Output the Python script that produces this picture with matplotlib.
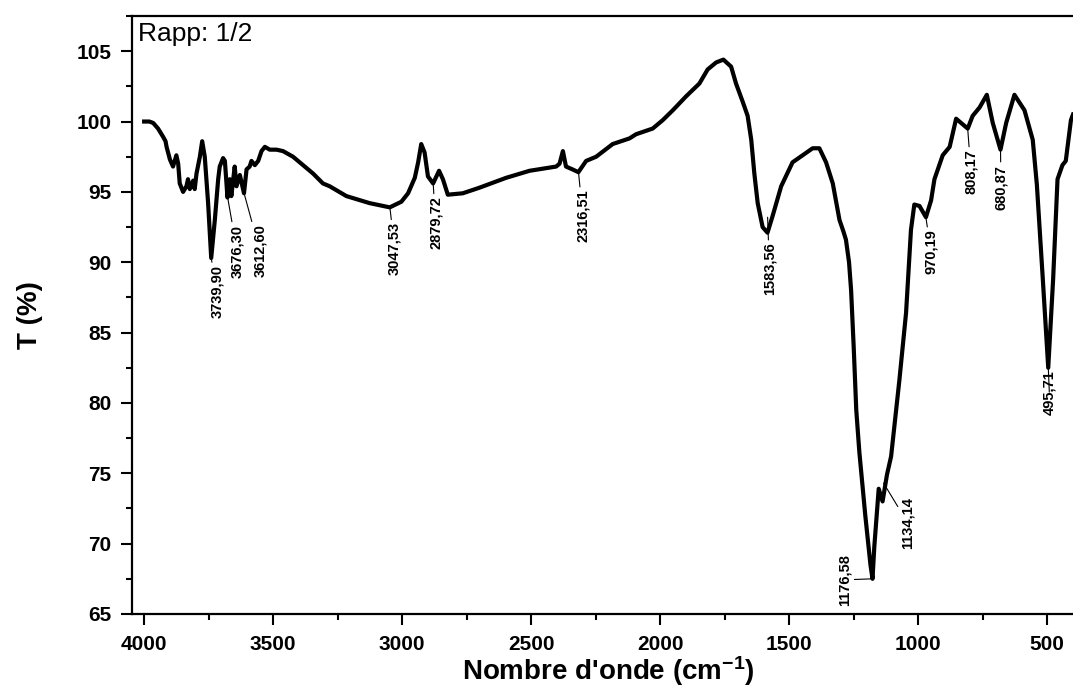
import numpy as np
import matplotlib
matplotlib.use('Agg')
import matplotlib.pyplot as plt
from matplotlib.ticker import MultipleLocator

plt.rcParams['font.family'] = ['Liberation Sans', 'DejaVu Sans']
plt.rcParams['mathtext.fontset'] = 'custom'
plt.rcParams['mathtext.rm'] = 'Liberation Sans:bold'
plt.rcParams['mathtext.bf'] = 'Liberation Sans:bold'
plt.rcParams['mathtext.it'] = 'Liberation Sans:bold'

# spectre IR (nombre d'onde, transmittance)
wavenumber = [4000, 3980, 3965, 3946, 3926, 3917, 3913, 3900, 3888, 3875,
              3868, 3862, 3849, 3836, 3830, 3823, 3810, 3804, 3797, 3784,
              3775, 3765, 3752, 3740, 3726, 3713, 3707, 3694, 3687, 3677,
              3668, 3662, 3649, 3642, 3629, 3613, 3603, 3591, 3584, 3571,
              3558, 3545, 3532, 3513, 3487, 3462, 3423, 3384, 3345, 3307,
              3281, 3216, 3126, 3048, 3003, 2977, 2951, 2938, 2926, 2913,
              2900, 2880, 2857, 2842, 2823, 2765, 2700, 2597, 2506, 2403,
              2390, 2377, 2365, 2340, 2317, 2287, 2248, 2184, 2119, 2093,
              2029, 1990, 1951, 1899, 1848, 1816, 1783, 1755, 1725, 1706,
              1680, 1661, 1647, 1635, 1622, 1603, 1584, 1564, 1531, 1487,
              1448, 1409, 1383, 1357, 1331, 1305, 1290, 1280, 1268, 1260,
              1250, 1240, 1228, 1205, 1185, 1177, 1170, 1153, 1138, 1121,
              1105, 1073, 1047, 1028, 1015, 995, 970, 950, 937, 905,
              878, 853, 808, 789, 762, 734, 711, 681, 659, 627,
              588, 556, 540, 517, 496, 477, 460, 441, 428, 408, 400]
transmittance = [100.0, 100.0, 99.9, 99.5, 98.9, 98.6, 98.2, 97.3, 96.8, 97.6,
                 97.0, 95.6, 95.0, 95.4, 95.9, 95.2, 95.8, 95.2, 96.3, 97.5,
                 98.6, 97.5, 94.2, 90.3, 93.0, 95.9, 96.8, 97.4, 97.2, 94.6,
                 95.9, 94.7, 96.8, 95.4, 96.2, 94.9, 96.6, 96.8, 97.2, 96.9,
                 97.2, 97.9, 98.2, 98.0, 98.0, 97.9, 97.5, 96.9, 96.3, 95.6,
                 95.4, 94.7, 94.2, 93.9, 94.3, 94.9, 96.0, 97.1, 98.4, 97.8,
                 96.1, 95.6, 96.5, 95.9, 94.8, 94.9, 95.3, 96.0, 96.5, 96.8,
                 97.0, 97.9, 96.8, 96.6, 96.4, 97.2, 97.5, 98.4, 98.8, 99.1,
                 99.5, 100.1, 100.8, 101.8, 102.7, 103.7, 104.2, 104.4, 103.9, 102.7,
                 101.4, 100.4, 98.7, 96.3, 94.2, 92.5, 92.1, 93.3, 95.4, 97.1,
                 97.6, 98.1, 98.1, 97.1, 95.6, 93.0, 92.2, 91.6, 90.0, 88.0,
                 84.0, 79.5, 76.5, 72.0, 68.5, 67.5, 69.8, 73.9, 73.0, 74.9,
                 76.2, 81.6, 86.4, 92.3, 94.1, 94.0, 93.2, 94.4, 95.9, 97.6,
                 98.2, 100.2, 99.5, 100.4, 101.0, 101.9, 99.9, 98.0, 99.9, 101.9,
                 100.8, 98.7, 95.5, 88.8, 82.5, 88.8, 95.9, 96.9, 97.2, 100.1, 100.5]

# pics annotés
peak_labels = ['3739,90', '3676,30', '3612,60', '3047,53', '2879,72', '2316,51',
               '1583,56', '1176,58', '1134,14', '970,19', '808,17', '680,87', '495,71']
peak_wn = [3739.90, 3676.30, 3612.60, 3047.53, 2879.72, 2316.51,
           1583.56, 1176.58, 1134.14, 970.19, 808.17, 680.87, 495.71]
peak_t = [90.3, 94.6, 94.9, 93.9, 95.6, 96.4,
          93.2, 67.5, 74.3, 93.2, 99.5, 98.0, 82.5]

# décalage du texte par rapport au pic (pixels)
label_offsets = [(5.5, -7), (9.4, -27), (15.7, -31), (4.8, -15), (2.4, -13), (4.3, -17.5),
                 (1.8, -25.5), (-28, -1), (24, -13.5), (5.1, -12.5), (3.3, -21), (0.4, -15), (1, -2)]

fig = plt.figure(figsize=(10.73, 6.93), dpi=100)
ax = fig.add_axes([132/1073, 1-614/693, (1073-132)/1073, (614-16)/693])

ax.plot(wavenumber, transmittance, color='black', lw=3.0, solid_joinstyle='round')

for lab, x, y, off in zip(peak_labels, peak_wn, peak_t, label_offsets):
    va = 'center' if lab == '1176,58' else 'top'
    ax.annotate(lab, xy=(x, y), xytext=off, textcoords='offset pixels',
                rotation=90, ha='center', va=va, fontsize=10.5, fontweight='bold',
                arrowprops=dict(arrowstyle='-', lw=0.8, color='black',
                                shrinkA=0, shrinkB=0))

ax.text(0.006, 0.99, 'Rapp: 1/2', transform=ax.transAxes, ha='left', va='top', fontsize=19)

ax.set_xlim(4047, 400)
ax.set_ylim(65, 107.5)
ax.xaxis.set_major_locator(MultipleLocator(500))
ax.xaxis.set_minor_locator(MultipleLocator(250))
ax.yaxis.set_major_locator(MultipleLocator(5))
ax.yaxis.set_minor_locator(MultipleLocator(2.5))

ax.tick_params(which='major', direction='out', length=8, width=1.5, labelsize=15, pad=7)
ax.tick_params(which='minor', direction='out', length=4.5, width=1.5)
for t in ax.get_xticklabels() + ax.get_yticklabels():
    t.set_fontweight('bold')

ax.spines['right'].set_visible(False)
for s in ['left', 'bottom', 'top']:
    ax.spines[s].set_linewidth(1.6)

ax.set_xlabel("Nombre d'onde (cm$^{-1}$)", fontsize=20, fontweight='bold')
ax.set_ylabel('T (%)', fontsize=20, fontweight='bold')
ax.xaxis.set_label_coords(0.506, -0.068)
ax.yaxis.set_label_coords(-0.095, 0.5)

fig.savefig('out.png', dpi=100)
